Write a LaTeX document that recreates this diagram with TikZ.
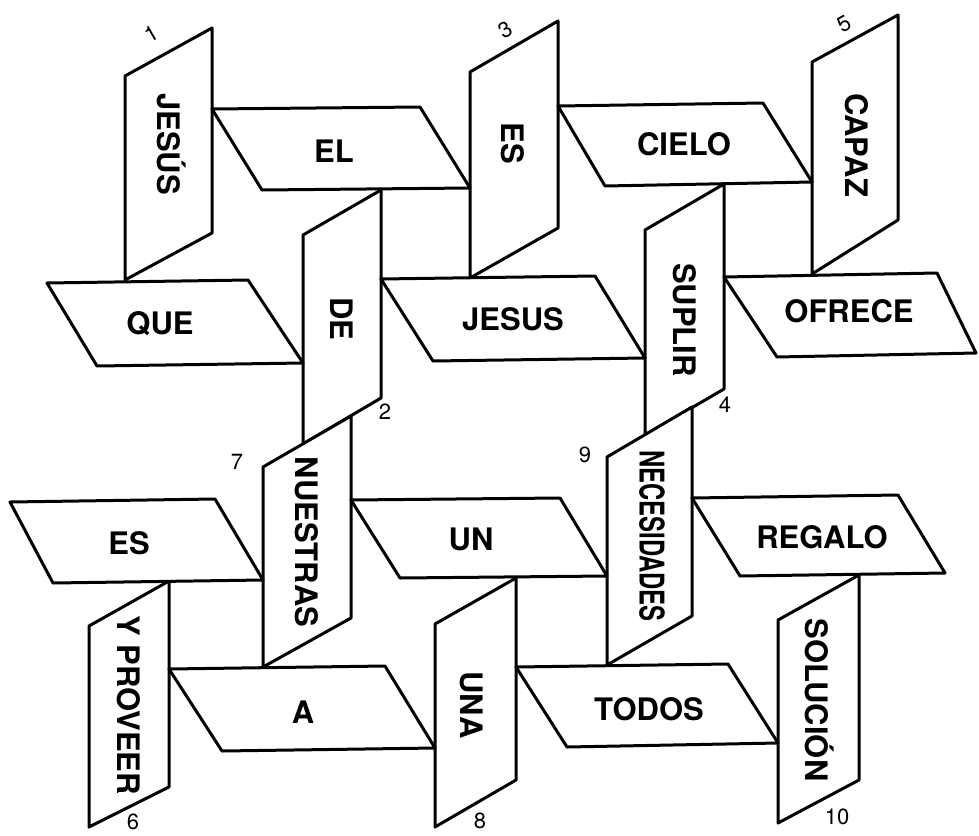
\documentclass[tikz,border=0pt]{standalone}
\usepackage{fontspec}
\setmainfont{TeX Gyre Heros}
\usepackage{tikz}

\begin{document}
\begin{tikzpicture}[x=1pt, y=-1pt,
        panel/.style={line width=3pt, line join=round, fill=white},
        word/.style={font=\fontsize{31}{31}\selectfont\bfseries, inner sep=0pt},
        upword/.style={word, rotate=-90},
        num/.style={font=\fontsize{22}{22}\selectfont, inner sep=0pt}]
        \useasboundingbox (0, 0) rectangle (979, 835);
        % Standing panels, top row
        \draw [panel] (125, 76) -- (212, 28) -- (212, 233) -- (125, 280) -- cycle;
        \draw [panel] (303, 235) -- (381, 190) -- (381, 398) -- (303, 444) -- cycle;
        \draw [panel] (470, 72) -- (558, 21) -- (558, 228) -- (470, 278) -- cycle;
        \draw [panel] (645, 230) -- (724, 184) -- (724, 389) -- (645, 435) -- cycle;
        \draw [panel] (812, 62) -- (898, 15) -- (898, 220) -- (812, 274) -- cycle;
        % Lying panels, top row
        \draw [panel] (212, 109) -- (420, 107) -- (470, 188) -- (262, 190) -- cycle;
        \draw [panel] (47, 283) -- (248, 280) -- (303, 363) -- (97, 366) -- cycle;
        \draw [panel] (381, 279) -- (595, 276) -- (645, 358) -- (433, 361) -- cycle;
        \draw [panel] (558, 106) -- (763, 103) -- (812, 182) -- (605, 186) -- cycle;
        \draw [panel] (724, 277) -- (937, 273) -- (976, 353) -- (777, 357) -- cycle;
        % Standing panels, bottom row
        \draw [panel] (263, 467) -- (351, 416) -- (351, 618) -- (263, 667) -- cycle;
        \draw [panel] (89, 626) -- (169, 581) -- (169, 787) -- (89, 827) -- cycle;
        \draw [panel] (607, 457) -- (692, 407) -- (692, 616) -- (607, 665) -- cycle;
        \draw [panel] (435, 624) -- (516, 578) -- (516, 780) -- (435, 827) -- cycle;
        \draw [panel] (778, 620) -- (859, 575) -- (859, 780) -- (778, 823) -- cycle;
        % Lying panels, bottom row
        \draw [panel] (10, 502) -- (215, 499) -- (263, 580) -- (53, 583) -- cycle;
        \draw [panel] (169, 669) -- (385, 666) -- (435, 748) -- (222, 751) -- cycle;
        \draw [panel] (351, 500) -- (560, 498) -- (607, 576) -- (400, 578) -- cycle;
        \draw [panel] (516, 667) -- (728, 664) -- (778, 743) -- (567, 747) -- cycle;
        \draw [panel] (692, 498) -- (898, 495) -- (945, 573) -- (740, 576) -- cycle;
        % Words
        \node [upword] (jesusv) at (172, 144) {JESÚS};
        \node [upword] (de) at (342, 319) {DE};
        \node [upword] (esup) at (513, 143) {ES};
        \node [upword] (suplir) at (685, 320) {SUPLIR};
        \node [upword] (capaz) at (857, 145) {CAPAZ};
        \node [word] (el) at (334, 151) {EL};
        \node [word] (que) at (160, 324) {QUE};
        \node [word] (jesush) at (513, 319) {JESUS};
        \node [word] (cielo) at (684, 144) {CIELO};
        \node [word] (ofrece) at (849, 311) {OFRECE};
        \node [upword] (nuestras) at (307, 542) {NUESTRAS};
        \node [upword] (proveer) at (129, 705) {Y PROVEER};
        \node [upword] (necesidades) at (652, 536) {\scalebox{0.77}[1.1]{NECESIDADES}};
        \node [upword] (una) at (472, 705) {UNA};
        \node [upword] (solucion) at (820, 700) {SOLUCIÓN};
        \node [word] (eslow) at (129, 543) {ES};
        \node [word] (a) at (303, 712) {A};
        \node [word] (un) at (471, 539) {UN};
        \node [word] (todos) at (649, 709) {TODOS};
        \node [word] (regalo) at (822, 537) {REGALO};
        % Numbers
        \node [num, rotate=30] (n1) at (151, 34) {1};
        \node [num, rotate=30] (n3) at (505, 30) {3};
        \node [num, rotate=30] (n5) at (844, 24) {5};
        \node [num] (n2) at (385, 412) {2};
        \node [num] (n4) at (725, 405) {4};
        \node [num] (n7) at (237, 462) {7};
        \node [num] (n9) at (585, 455) {9};
        \node [num] (n6) at (133, 822) {6};
        \node [num] (n8) at (480, 821) {8};
        \node [num] (n10) at (837, 817) {10};
    \end{tikzpicture}
\end{document}
